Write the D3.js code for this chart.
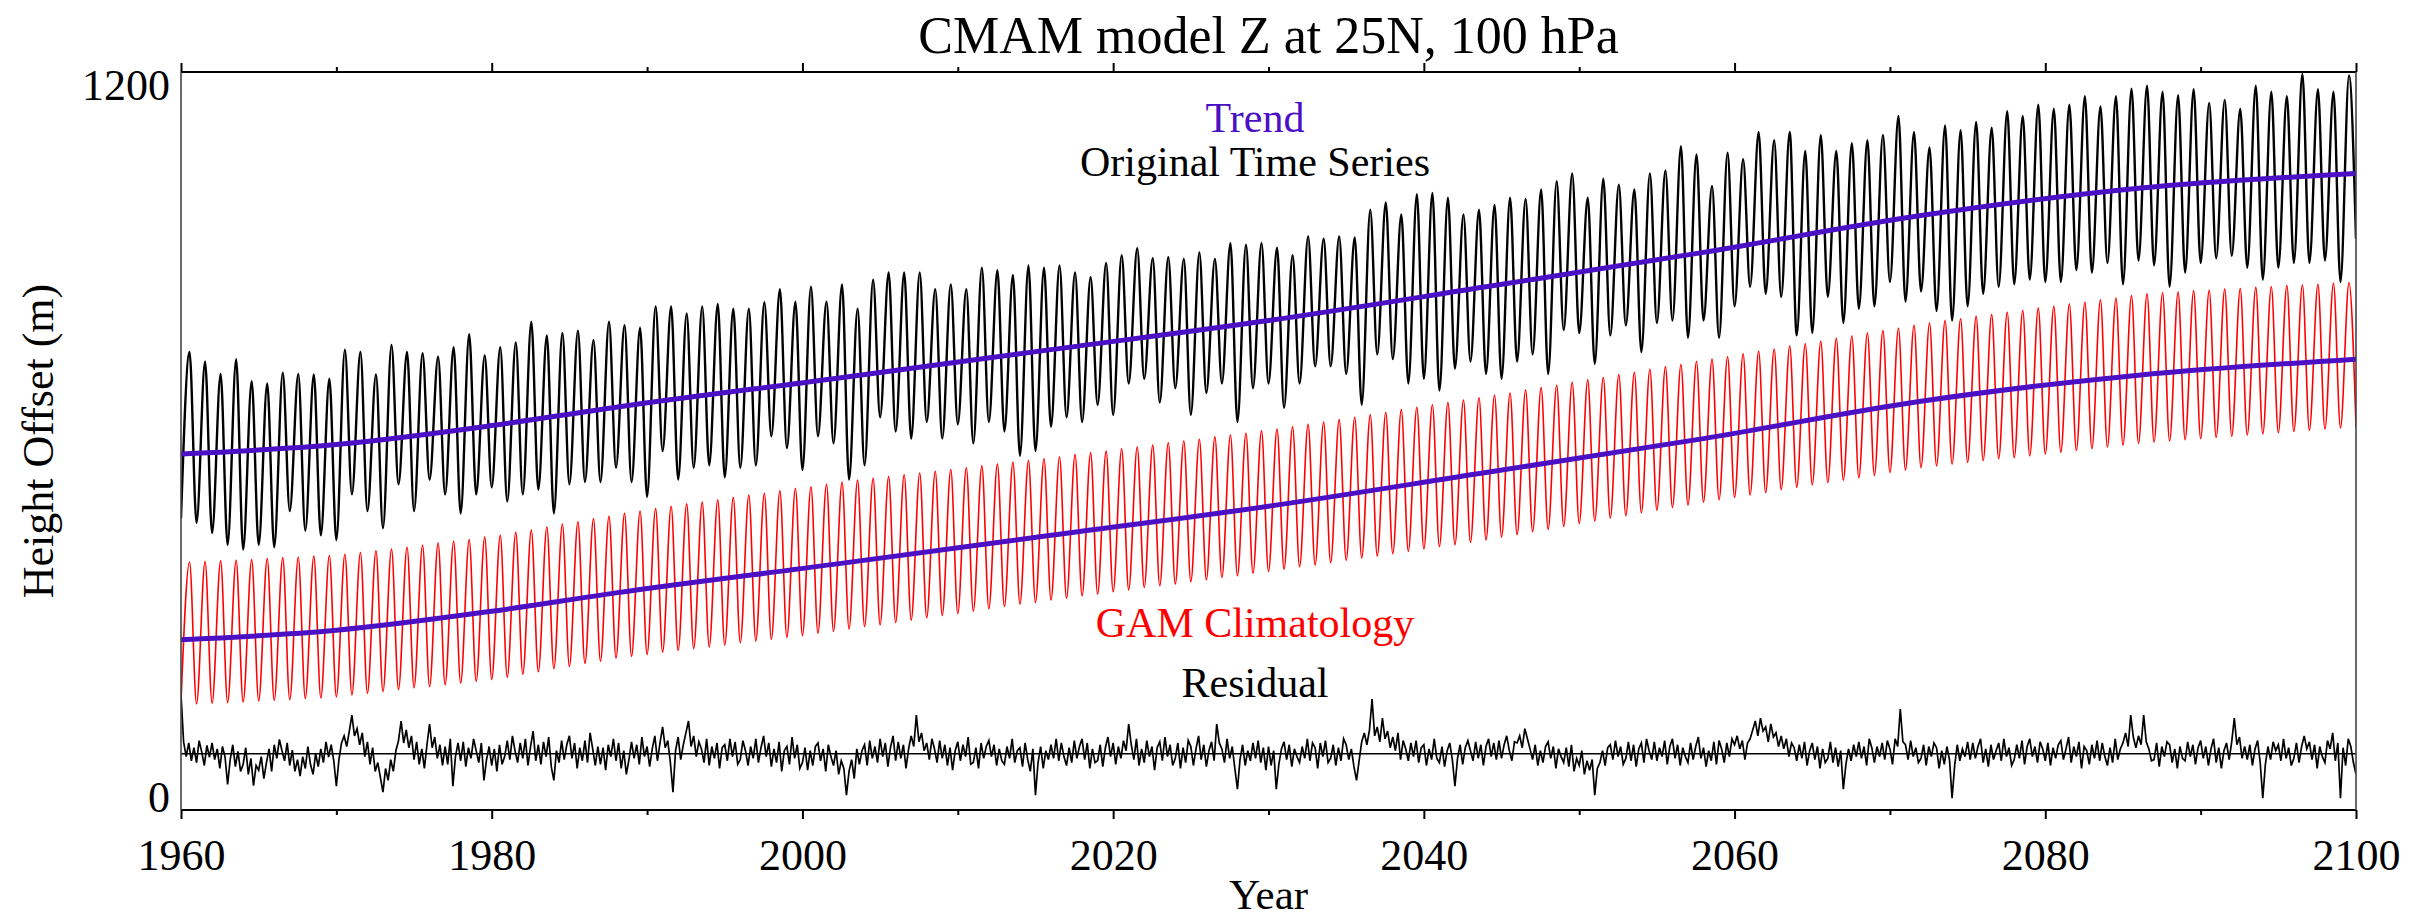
<!DOCTYPE html>
<html>
<head>
<meta charset="utf-8">
<script src="https://cdn.jsdelivr.net/npm/d3@7"></script>
<style>
  body { margin: 0; background: #fff; }
  text { font-family: "Liberation Serif", "Times New Roman", serif; }
</style>
</head>
<body>
<svg id="chart" width="2430" height="921"></svg>
<script>
// ---- data (metres) ----
const firstYear = 1960;
const lastYear = 2100;
const peakPhase = 0.55;          // seasonal maximum falls around July
const majorYears = [1960, 1980, 2000, 2020, 2040, 2060, 2080, 2100];
const minorYears = [1970, 1990, 2010, 2030, 2050, 2070, 2090];
const yTicks = [0, 1200];

// smooth trends, read at a few years
const trendYears = [1960, 1970, 1980, 1988, 2002, 2016, 2030, 2044, 2058, 2072, 2086, 2100];
const trendOriginal = [578, 594, 626, 657, 705, 754, 803, 860, 918, 980, 1026, 1051];
const trendClim = [265, 281, 313, 344, 392, 441, 490, 547, 604, 667, 711, 738];

// GAM climatology: yearly maxima (1960-2099) and minima (1960-2100)
const redPeaks = [
  396,397,398,399,400,402,403,404,406,407,
  409,412,415,418,421,424,428,431,434,438,
  441,446,450,455,460,464,469,473,478,482,
  486,490,494,497,501,505,509,512,516,520,
  523,527,531,534,537,540,543,546,549,552,
  555,558,561,564,567,570,573,577,580,583,
  587,590,593,597,600,603,607,610,613,617,
  620,624,628,632,636,640,644,648,653,657,
  661,665,669,673,677,681,686,690,694,699,
  703,707,712,716,721,725,729,734,738,742,
  747,751,755,760,764,768,773,777,782,786,
  790,795,799,803,806,810,813,817,820,824,
  827,831,834,838,841,845,848,850,851,853,
  854,856,857,859,860,862,863,864,866,867
];
const redTroughs = [
  160,157,158,159,160,162,163,164,166,167,
  169,172,175,178,181,184,186,189,192,195,
  198,202,207,211,216,220,225,229,234,237,
  240,244,247,250,253,256,260,263,266,269,
  272,276,279,283,287,290,294,298,302,306,
  309,313,317,321,325,328,332,335,339,342,
  346,349,353,356,359,363,366,370,373,377,
  380,384,388,391,395,399,403,406,410,414,
  418,422,425,429,433,438,442,447,451,456,
  461,465,470,474,479,483,488,492,497,501,
  505,509,513,518,522,526,530,534,538,542,
  547,551,555,558,561,564,567,570,572,575,
  578,581,584,587,590,593,596,598,600,602,
  604,606,608,610,612,614,616,618,620,622,
  624
];

// original time series: yearly maxima (1960-2099) and minima (1960-2100)
const blackPeaks = [
  750,734,713,738,701,697,715,713,712,705,
  754,750,712,762,750,748,742,758,780,744,
  758,766,801,778,782,786,770,801,795,791,
  827,827,815,827,831,823,823,834,856,835,
  860,835,864,823,872,884,884,884,856,864,
  856,892,888,880,896,892,896,884,876,900,
  913,925,908,910,907,918,907,934,931,934,
  926,913,945,941,945,943,990,1002,982,1016,
  1018,1010,982,990,998,1010,1008,1024,1038,1051,
  1010,1042,1032,1024,1051,1056,1097,1083,1030,1086,
  1075,1121,1107,1121,1089,1116,1089,1102,1107,1116,
  1148,1121,1095,1132,1124,1138,1128,1156,1148,1167,
  1160,1167,1181,1164,1181,1194,1199,1189,1183,1193,
  1170,1175,1160,1199,1189,1181,1219,1193,1189,1216
];
const blackTroughs = [
  470,462,445,425,417,425,421,482,449,441,
  433,510,482,453,527,482,535,510,478,510,
  522,498,510,518,478,527,531,531,555,531,
  506,583,535,555,559,539,555,559,608,588,
  551,608,596,535,559,640,616,604,632,604,
  628,596,632,616,575,583,624,640,632,661,
  644,697,705,665,689,644,681,697,632,689,
  697,656,697,726,726,713,661,746,738,697,
  705,685,722,734,713,705,734,746,713,787,
  782,730,778,795,750,799,803,774,803,774,
  827,860,848,843,778,782,843,799,823,827,
  868,835,852,819,803,827,848,860,864,872,
  868,868,888,884,900,864,904,896,860,884,
  900,908,912,892,872,892,900,900,904,868,
  941
];

// residual, six values a year from 1960 to 2100, drawn about an offset line
const residualBase = 73;
const residualPerYear = 6;
const residual = [
  100,20,-5,18,-12,10, -15,22,3,-20,14,-6, 18,-10,8,-25,12,-5, -52,-10,15,-22,4,-30,
  -18,10,-35,-8,-54,-20, -28,-5,-42,-15,8,-30, 15,-8,24,5,-12,18, -20,6,-30,-10,-38,-5,
  -25,12,-18,-35,0,-22, 8,-15,20,-6,15,-12, -55,-10,18,30,12,38, 65,30,42,15,35,-5,
  20,-18,10,-30,-15,-40, -65,-25,-45,-10,-30,5, 22,55,18,40,10,30, -10,20,-18,8,-25,15,
  50,10,28,-8,15,-20, 12,-18,25,-55,-5,18, -12,20,-22,10,-8,25, 5,-15,18,-45,-10,12,
  -20,8,-30,15,-18,-5, 22,-10,30,5,-15,18, -8,25,-20,12,38,-12, 15,-18,20,-5,28,-22,
  -45,5,-15,22,-10,15, 30,-8,18,-25,10,-12, 22,-15,35,8,-20,12, -18,10,-28,15,-5,25,
  -12,18,-25,5,-35,-10, 20,-8,15,-18,28,-5, 12,-22,8,30,-12,18, 45,10,22,-15,-65,5,
  28,-10,15,35,55,12, 30,-5,20,8,-15,25, -20,12,-8,18,-25,10, 15,-12,25,-5,20,-18,
  -10,22,5,-20,12,-8, 25,-15,10,30,-5,18, -22,8,-15,20,-30,5, 12,-18,28,-8,15,-25,
  -15,10,-28,5,-20,12, 18,-12,8,-30,15,-5, -20,5,-35,-12,-25,-70, -30,-10,-42,8,-18,5,
  15,-20,22,-8,12,-15, 25,-5,18,-22,10,30, -12,20,-8,15,-25,8, 30,12,65,20,35,5,
  18,-10,25,8,-15,22, -8,15,-20,10,-28,5, 20,-12,15,-5,28,-18, -15,10,-25,18,-8,12,
  22,-5,15,-20,8,-12, -18,12,-8,25,-15,5, 10,-22,18,-10,-30,8, -70,-15,12,-25,5,-10,
  15,-8,25,-12,18,-5, -20,10,-15,22,-8,12, 25,-10,18,-25,8,-15, -12,15,-22,10,28,-5,
  18,-18,12,-8,22,5, 50,15,-10,25,-20,8, -15,22,-5,12,-28,10, 20,-12,28,-5,15,-20,
  -8,18,-25,10,-15,22, 12,-20,8,30,-10,15, -22,5,20,-12,50,18, 8,-15,25,-8,12,-25,
  -60,-10,15,-20,5,-12, 18,-8,22,-15,10,-28, 12,-20,5,-60,-18,8, 20,-10,15,-22,8,-5,
  -15,12,-8,25,-12,18, 10,-25,18,-5,22,-15, -8,15,-20,10,-12,25, 15,-10,8,-22,-45,-12,
  20,35,15,40,92,30, 45,20,60,25,38,10, 28,5,35,-10,22,8, -12,18,-5,22,-15,10,
  15,-20,8,-10,25,-8, -15,12,-22,5,18,-10, -55,-8,15,-18,10,22, 5,-12,20,-8,15,-20,
  12,25,-5,18,-10,22, -8,15,30,5,-12,20, 18,30,10,42,25,8, -10,15,-20,5,-15,12,
  20,-8,12,-25,8,-5, -15,10,-22,15,-30,-8, -20,5,-35,-12,-28,-10, -70,-25,-15,5,-20,10,
  15,-10,22,-5,12,-18, -8,20,-12,15,-22,8, 18,-15,25,5,-10,20, -12,10,-5,22,-18,12,
  25,-8,15,-20,10,-5, -15,18,-10,12,28,-8, 10,-22,5,-12,20,-18, 22,8,-15,18,-5,25,
  15,30,8,22,-10,18, 25,40,55,30,60,38, 45,20,50,28,35,12, 30,8,25,-5,18,10,
  -12,15,-8,20,-20,5, 18,-10,12,-25,8,-15, -8,20,-15,10,-22,5, -60,-18,8,-12,15,-5,
  20,-8,12,-20,25,10, -15,12,-5,18,-10,22, 8,-18,25,12,75,20, 15,-10,22,-5,10,-15,
  -8,15,-20,12,-5,18, 10,-25,5,-18,12,-10, -75,-20,15,-12,8,-5, 20,-10,18,-8,12,25,
  -15,8,-22,15,-10,5, 18,-12,25,-5,10,-20, -10,15,-8,22,-18,12, 25,-5,12,-15,20,8,
  -12,18,-20,10,-8,15, 22,-10,8,28,-15,12, -5,20,-25,12,5,-18, 15,-8,22,-12,18,-5,
  -20,10,-15,25,-10,8, 18,35,12,65,28,10, 30,15,65,20,8,-12, -10,18,-22,12,-5,20,
  15,-15,8,-25,12,-8, -12,20,-5,15,-18,10, 22,-8,12,-20,8,25, -15,10,-25,5,18,-10,
  20,60,15,28,-8,12, -10,15,-20,8,22,-15, -75,-18,12,-10,20,5, 15,-12,25,-8,10,-20,
  -8,18,-15,12,30,8, 20,-10,15,-25,12,-5, -15,22,8,35,-12,18, -75,10,-20,25,12,-15,
  -35
];

// ---- layout ----
const svg = d3.select("#chart");
const width = +svg.attr("width");
const margin = { top: 72, right: 74, bottom: 111, left: 181 };
const plotBottom = 921 - margin.bottom;
const purple = "#4b0fc4";

const x = d3.scaleLinear().domain([firstYear, lastYear]).range([margin.left, width - margin.right]);
const y = d3.scaleLinear().domain([-22, 1222]).range([plotBottom, margin.top]);

svg.append("rect").attr("width", width).attr("height", 921).attr("fill", "#fff");

svg.append("clipPath").attr("id", "plot-clip")
  .append("rect")
  .attr("x", margin.left).attr("y", margin.top - 4)
  .attr("width", x(lastYear) - margin.left).attr("height", plotBottom - margin.top + 4);

// seasonal series: minimum at the start of each year, maximum mid-year
function cyclePoints(troughs, peaks) {
  const pts = [];
  troughs.forEach((v, i) => {
    pts.push([firstYear + i, v]);
    if (i < peaks.length) pts.push([firstYear + i + peakPhase, peaks[i]]);
  });
  return pts;
}

const seasonLine = d3.line()
  .x(d => x(d[0]))
  .y(d => y(d[1]))
  .curve(d3.curveMonotoneX);

const trendLine = d3.line()
  .x((d, i) => x(trendYears[i]))
  .y(d => y(d))
  .curve(d3.curveMonotoneX);

const residualLine = d3.line()
  .x((d, i) => x(firstYear + i / residualPerYear))
  .y(d => y(residualBase + d));

const plot = svg.append("g").attr("clip-path", "url(#plot-clip)");

plot.append("path")
  .attr("d", seasonLine(cyclePoints(blackTroughs, blackPeaks)))
  .attr("fill", "none").attr("stroke", "#000").attr("stroke-width", 2.4);

plot.append("path")
  .attr("d", seasonLine(cyclePoints(redTroughs, redPeaks)))
  .attr("fill", "none").attr("stroke", "#ff0000").attr("stroke-width", 1.6);

[trendOriginal, trendClim].forEach(series => {
  plot.append("path")
    .attr("d", trendLine(series))
    .attr("fill", "none").attr("stroke", purple).attr("stroke-width", 5);
});

plot.append("path")
  .attr("d", residualLine(residual))
  .attr("fill", "none").attr("stroke", "#000").attr("stroke-width", 1.7);

plot.append("line")
  .attr("x1", x(firstYear)).attr("x2", x(lastYear))
  .attr("y1", y(residualBase)).attr("y2", y(residualBase))
  .attr("stroke", "#000").attr("stroke-width", 1.5);

// ---- axes ----
function styleAxis(g, fontSize) {
  g.select(".domain").remove();
  g.selectAll(".tick line").attr("stroke", "#000").attr("stroke-width", 2);
  g.selectAll(".tick text")
    .style("font-family", "'Liberation Serif', 'Times New Roman', serif")
    .style("font-size", fontSize + "px")
    .attr("fill", "#000");
}

svg.append("g")
  .attr("transform", `translate(0,${plotBottom})`)
  .call(d3.axisBottom(x).tickValues(majorYears).tickSize(9).tickPadding(20).tickFormat(d3.format("d")))
  .call(g => styleAxis(g, 44));

svg.append("g")
  .attr("transform", `translate(0,${plotBottom})`)
  .call(d3.axisBottom(x).tickValues(minorYears).tickSize(5).tickFormat(""))
  .call(g => styleAxis(g, 44));

svg.append("g")
  .attr("transform", `translate(0,${margin.top})`)
  .call(d3.axisTop(x).tickValues(majorYears).tickSize(9).tickFormat(""))
  .call(g => styleAxis(g, 44));

svg.append("g")
  .attr("transform", `translate(0,${margin.top})`)
  .call(d3.axisTop(x).tickValues(minorYears).tickSize(5).tickFormat(""))
  .call(g => styleAxis(g, 44));

svg.append("g")
  .attr("transform", `translate(${margin.left},0)`)
  .call(d3.axisLeft(y).tickValues(yTicks).tickSize(0).tickPadding(11).tickFormat(d3.format("d")))
  .call(g => styleAxis(g, 44));

// frame
svg.append("line")
  .attr("x1", margin.left).attr("x2", x(lastYear)).attr("y1", margin.top).attr("y2", margin.top)
  .attr("stroke", "#000").attr("stroke-width", 2);
svg.append("line")
  .attr("x1", margin.left).attr("x2", x(lastYear)).attr("y1", plotBottom).attr("y2", plotBottom)
  .attr("stroke", "#000").attr("stroke-width", 2);
[margin.left, x(lastYear)].forEach(xx => {
  svg.append("line")
    .attr("x1", xx).attr("x2", xx).attr("y1", margin.top).attr("y2", plotBottom)
    .attr("stroke", "#444").attr("stroke-width", 1.6);
});

// ---- titles and labels ----
const cx = (margin.left + x(lastYear)) / 2;

svg.append("text")
  .attr("x", cx).attr("y", 53)
  .attr("text-anchor", "middle")
  .style("font-size", "52px")
  .text("CMAM model Z at 25N, 100 hPa");

svg.append("text")
  .attr("x", cx).attr("y", 909)
  .attr("text-anchor", "middle")
  .style("font-size", "43px")
  .text("Year");

svg.append("text")
  .attr("transform", `translate(53,${(margin.top + plotBottom) / 2}) rotate(-90)`)
  .attr("text-anchor", "middle")
  .style("font-size", "44px")
  .text("Height Offset (m)");

const labels = [
  { text: "Trend", y: 132, color: purple },
  { text: "Original Time Series", y: 176, color: "#000" },
  { text: "GAM Climatology", y: 637, color: "#ff0000" },
  { text: "Residual", y: 697, color: "#000" }
];

svg.selectAll("text.series")
  .data(labels)
  .enter()
  .append("text")
  .attr("class", "series")
  .attr("x", 1255)
  .attr("y", d => d.y)
  .attr("text-anchor", "middle")
  .attr("fill", d => d.color)
  .style("font-size", "42px")
  .text(d => d.text);
</script>
</body>
</html>
